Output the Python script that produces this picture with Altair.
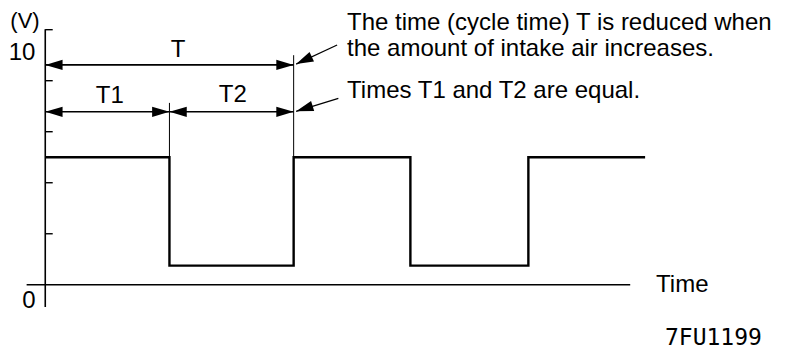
import altair as alt
import pandas as pd

# ---- data (time in arbitrary units, voltage in V) ----
wave_t = [0, 1, 1, 2, 2, 2.94, 2.94, 3.89, 3.89, 4.83]
wave_v = [5, 5, 0.75, 0.75, 5, 5, 0.75, 0.75, 5, 5]

y_ticks = [2, 4, 6, 8, 10]
y_axis_span = [-0.87, 10.02]
x_axis_span = [-0.15, 4.71]

dim_names = ["T", "T1", "T2"]
dim_start = [0, 0, 1]
dim_end = [2, 1, 2]
dim_level = [8.62, 6.78, 6.78]
dim_label_x = [1.07, 0.52, 1.51]
dim_label_y = [8.93, 7.13, 7.17]

ext_x = [1, 2]
ext_top = [7.13, 9.0]
ext_bottom = [5, 5]

leader_x0 = [2.02, 2.02]
leader_y0 = [8.65, 6.80]
leader_x1 = [2.35, 2.36]
leader_y1 = [9.40, 7.31]

note_lines = ["The time (cycle time) T is reduced when",
              "the amount of intake air increases.",
              "Times T1 and T2 are equal."]
note_x = [2.43, 2.43, 2.43]
note_y = [9.99, 8.97, 7.32]

XD = [-0.3, 5.9]
YD = [-2.557, 10.85]
xs = alt.Scale(domain=XD, nice=False, zero=False)
ys = alt.Scale(domain=YD, nice=False, zero=False)

def X(f, **k):
    return alt.X(f, type="quantitative", scale=xs, axis=None, **k)

def Y(f, **k):
    return alt.Y(f, type="quantitative", scale=ys, axis=None, **k)

FONT = "Liberation Sans"

# axes
yaxis = alt.Chart(pd.DataFrame({"x": [0], "y": [y_axis_span[0]], "y2": [y_axis_span[1]]})).mark_rule(
    color="black", strokeWidth=1.6).encode(x=X("x"), y=Y("y"), y2="y2")
xaxis = alt.Chart(pd.DataFrame({"x": [x_axis_span[0]], "x2": [x_axis_span[1]], "y": [0]})).mark_rule(
    color="black", strokeWidth=1.4).encode(x=X("x"), x2="x2", y=Y("y"))
ticks = alt.Chart(pd.DataFrame({"x": [0] * len(y_ticks), "x2": [0.06] * len(y_ticks), "y": y_ticks})).mark_rule(
    color="black", strokeWidth=1.4).encode(x=X("x"), x2="x2", y=Y("y"))

# waveform
wdf = pd.DataFrame({"t": wave_t, "v": wave_v, "o": list(range(len(wave_t)))})
wave = alt.Chart(wdf).mark_line(color="black", strokeWidth=2.4, strokeJoin="miter").encode(
    x=X("t"), y=Y("v"), order="o:O")

# dimension lines
ddf = pd.DataFrame({"name": dim_names, "x": dim_start, "x2": dim_end, "y": dim_level,
                    "lx": dim_label_x, "ly": dim_label_y})
dims = alt.Chart(ddf).mark_rule(color="black", strokeWidth=1.6).encode(x=X("x"), x2="x2", y=Y("y"))
dim_labels = alt.Chart(ddf).mark_text(font=FONT, fontSize=24, align="center", baseline="alphabetic",
                                      color="black").encode(x=X("lx"), y=Y("ly"), text="name")

# extension lines
edf = pd.DataFrame({"x": ext_x, "y": ext_top, "y2": ext_bottom})
ext = alt.Chart(edf).mark_rule(color="black", strokeWidth=1.0).encode(x=X("x"), y=Y("y"), y2="y2")

# leaders
ldf = pd.DataFrame({"x": leader_x0, "y": leader_y0, "x2": leader_x1, "y2": leader_y1})
leaders = alt.Chart(ldf).mark_rule(color="black", strokeWidth=1.2).encode(
    x=X("x"), y=Y("y"), x2="x2", y2="y2")

# arrowheads (tip positions and pointing angle)
head_x = [0, 2, 0, 1, 1, 2, 2.02, 2.02]
head_y = [8.62, 8.62, 6.78, 6.78, 6.78, 6.78, 8.65, 6.80]
head_angle = [0, 180, 0, 180, 0, 180, 334.6, 342.4]
hdf = pd.DataFrame({"x": head_x, "y": head_y, "a": head_angle})
heads = alt.Chart(hdf).mark_point(shape="M0,0L2,-0.6L2,0.6Z", filled=True, size=300, color="black",
                                  opacity=1, strokeWidth=0).encode(
    x=X("x"), y=Y("y"), angle=alt.Angle("a:Q", scale=None))

# annotation text
ndf = pd.DataFrame({"t": note_lines, "x": note_x, "y": note_y})
notes = alt.Chart(ndf).mark_text(font=FONT, fontSize=24, align="left", baseline="alphabetic",
                                 color="black").encode(x=X("x"), y=Y("y"), text="t")

# axis labels
lab_text = ["10", "0"]
lab_x = [-0.187, -0.131]
lab_y = [8.81, -0.905]
labels = alt.Chart(pd.DataFrame({"t": lab_text, "x": lab_x, "y": lab_y})).mark_text(
    font=FONT, fontSize=24, align="center", baseline="alphabetic", color="black").encode(
    x=X("x"), y=Y("y"), text="t")
vlab = alt.Chart(pd.DataFrame({"t": ["(V)"], "x": [-0.163], "y": [10.07]})).mark_text(
    font=FONT, fontSize=22, align="center", baseline="alphabetic", color="black").encode(
    x=X("x"), y=Y("y"), text="t")
tlab = alt.Chart(pd.DataFrame({"t": ["Time"], "x": [4.918], "y": [-0.278]})).mark_text(
    font=FONT, fontSize=24, align="left", baseline="alphabetic", color="black").encode(
    x=X("x"), y=Y("y"), text="t")
code = alt.Chart(pd.DataFrame({"t": ["7FU1199"], "x": [4.99], "y": [-2.36]})).mark_text(
    font="DejaVu Sans Mono", fontSize=23, align="left", baseline="alphabetic", color="black").encode(
    x=X("x"), y=Y("y"), text="t")

chart = alt.layer(yaxis, xaxis, ticks, wave, ext, dims, leaders, heads, dim_labels, notes,
                  labels, vlab, tlab, code).properties(
    width=770, height=342, autosize=alt.AutoSizeParams(type="none"), padding=0,
    background="white").configure_view(stroke=None)

chart.save("out.html", embed_options={"renderer": "svg", "actions": False})
